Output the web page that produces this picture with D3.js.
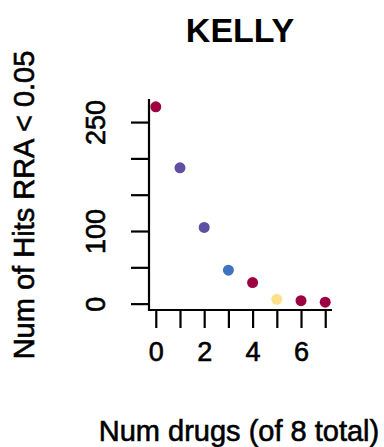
<!DOCTYPE html>
<html>
<head>
<meta charset="utf-8">
<script src="https://cdn.jsdelivr.net/npm/d3@7"></script>
<style>
  html, body { margin: 0; padding: 0; background: #fff; }
  svg { display: block; }
  text { font-family: "Liberation Sans", Arial, Helvetica, sans-serif; fill: #000; }
  .heavy { stroke: #000; stroke-width: 0.6px; }
</style>
</head>
<body>
<svg id="chart" width="384" height="447"></svg>
<script>
// Number of hits (RRA < 0.05) by number of drugs, KELLY cell line
const drugCounts = [0, 1, 2, 3, 4, 5, 6, 7];
const hitCounts = [271, 187, 105, 46, 29, 6, 4, 2];
const pointColors = ["#9E0142", "#5E4FA2", "#5E4FA2", "#3F73BF", "#9E0142", "#FEE08B", "#9E0142", "#9E0142"];
const xTickValues = [0, 1, 2, 3, 4, 5, 6, 7];
const xTickLabels = ["0", "", "2", "", "4", "", "6", ""];
const yTickValues = [0, 50, 100, 150, 200, 250];
const yTickLabels = ["0", "", "100", "", "", "250"];
const titleText = "KELLY";
const xTitle = "Num drugs (of 8 total)";
const yTitle = "Num of Hits RRA < 0.05";

const svg = d3.select("#chart");
const plot = { left: 149, right: 332, top: 99, bottom: 310 };

// pad each data range by 4% on both ends
function padded(ext) {
  const d = (ext[1] - ext[0]) * 0.04;
  return [ext[0] - d, ext[1] + d];
}

const x = d3.scaleLinear().domain(padded(d3.extent(drugCounts))).range([plot.left, plot.right]);
const y = d3.scaleLinear().domain(padded(d3.extent(hitCounts))).range([plot.bottom, plot.top]);

// L-shaped frame
svg.append("path")
  .attr("d", `M${plot.left},${plot.top}V${plot.bottom}H${plot.right}`)
  .attr("fill", "none").attr("stroke", "#000").attr("stroke-width", 2.2);

// x axis ticks and labels
const xAxis = d3.axisBottom(x).tickValues(xTickValues).tickSize(18).tickPadding(14)
  .tickFormat((d, i) => xTickLabels[i]);
const gx = svg.append("g").attr("transform", `translate(0,${plot.bottom})`).call(xAxis);
gx.select(".domain").remove();
gx.selectAll(".tick line").attr("stroke", "#000").attr("stroke-width", 2.2);
gx.selectAll(".tick text").attr("class", "heavy").style("font-size", "27px").attr("fill", "#000")
  .style("font-family", "'Liberation Sans', Arial, sans-serif");

// y axis ticks and labels (labels rotated, R-style)
const yAxis = d3.axisLeft(y).tickValues(yTickValues).tickSize(18).tickFormat((d, i) => yTickLabels[i]);
const gy = svg.append("g").attr("transform", `translate(${plot.left},0)`).call(yAxis);
gy.select(".domain").remove();
gy.selectAll(".tick line").attr("stroke", "#000").attr("stroke-width", 2.2);
gy.selectAll(".tick text")
  .attr("class", "heavy")
  .attr("x", null).attr("dy", null)
  .attr("transform", "translate(-44,0) rotate(-90)")
  .attr("text-anchor", "middle")
  .style("font-size", "27px").attr("fill", "#000")
  .style("font-family", "'Liberation Sans', Arial, sans-serif");

// points
svg.append("g").selectAll("circle")
  .data(drugCounts)
  .join("circle")
  .attr("cx", d => x(d))
  .attr("cy", (d, i) => y(hitCounts[i]))
  .attr("r", 5.5)
  .attr("fill", (d, i) => pointColors[i]);

// title
svg.append("text")
  .attr("x", 240).attr("y", 42)
  .attr("text-anchor", "middle")
  .style("font-size", "34px").style("font-weight", "bold")
  .text(titleText);

// axis titles
svg.append("text")
  .attr("class", "heavy")
  .attr("x", 239).attr("y", 441)
  .attr("text-anchor", "middle")
  .style("font-size", "29px")
  .text(xTitle);

svg.append("text")
  .attr("class", "heavy")
  .attr("transform", `translate(34,${(48 + 362) / 2}) rotate(-90)`)
  .attr("text-anchor", "middle")
  .style("font-size", "29px")
  .text(yTitle);
</script>
</body>
</html>
